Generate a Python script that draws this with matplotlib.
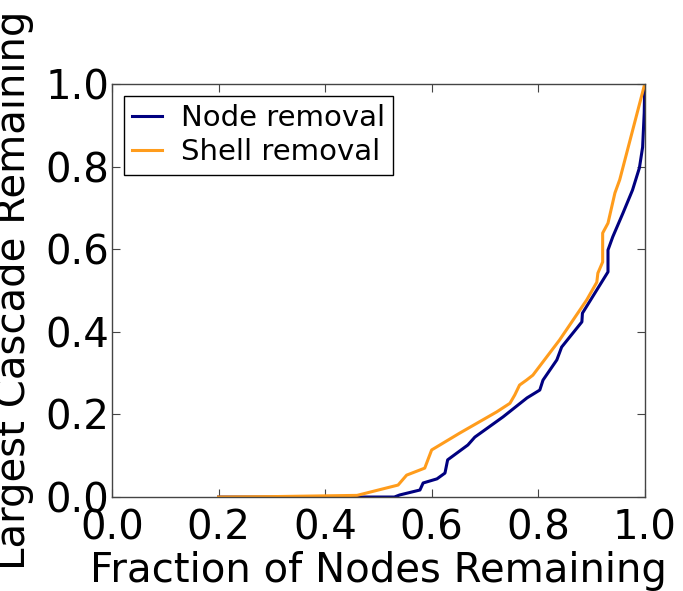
import matplotlib
matplotlib.use("Agg")
import matplotlib.pyplot as plt

node_x = [0.2, 0.45, 0.53, 0.54, 0.578, 0.584, 0.61, 0.625, 0.63, 0.668, 0.681, 0.734, 0.779, 0.803,
          0.809, 0.835, 0.844, 0.882, 0.883, 0.931, 0.931, 0.94, 0.959, 0.977, 0.99, 0.996, 0.999, 1.0]
node_y = [0.0, 0.0, 0.0, 0.005, 0.017, 0.034, 0.044, 0.058, 0.09, 0.126, 0.145, 0.194, 0.24, 0.259,
          0.283, 0.332, 0.363, 0.424, 0.445, 0.545, 0.598, 0.63, 0.687, 0.743, 0.797, 0.847, 0.93, 1.0]

shell_x = [0.2, 0.3, 0.46, 0.537, 0.553, 0.587, 0.6, 0.653, 0.722, 0.747, 0.756, 0.765, 0.778, 0.79, 0.84,
           0.891, 0.91, 0.912, 0.921, 0.921, 0.931, 0.944, 0.953, 1.0]
shell_y = [0.0, 0.001, 0.004, 0.029, 0.053, 0.07, 0.114, 0.155, 0.206, 0.227, 0.247, 0.271, 0.283, 0.295, 0.38,
           0.477, 0.52, 0.542, 0.569, 0.639, 0.663, 0.736, 0.768, 1.0]

ticks = [0.0, 0.2, 0.4, 0.6, 0.8, 1.0]

plt.rcParams['xtick.direction'] = 'in'
plt.rcParams['ytick.direction'] = 'in'
plt.rcParams['font.family'] = ['DejaVu Sans']

fig = plt.figure(figsize=(6.83, 5.91), dpi=100)
ax = fig.add_axes([0.164, 0.159, 0.78, 0.699])
ax.plot(node_x, node_y, color='#000080', lw=2.2, label='Node removal')
ax.plot(shell_x, shell_y, color='#ff9c1c', lw=2.2, label='Shell removal')
ax.set_xlim(0, 1)
ax.set_ylim(0, 1)
ax.set_xticks(ticks)
ax.set_yticks(ticks)
ax.set_xticklabels([f"{t:.1f}" for t in ticks])
ax.set_yticklabels([f"{t:.1f}" for t in ticks])
for s in ax.spines.values():
    s.set_color('#444444')
    s.set_linewidth(1.0)
ax.tick_params(labelsize=29, top=True, right=True, length=6, color='#444444')
ax.tick_params(axis='x', pad=8)
ax.tick_params(axis='y', pad=2)
ax.set_xlabel('Fraction of Nodes Remaining', fontsize=29, labelpad=2)
ax.set_ylabel('Largest Cascade Remaining', fontsize=29, labelpad=8)
leg = ax.legend(loc='upper left', fontsize=21, fancybox=False, framealpha=1,
                handlelength=1.0, borderaxespad=0.4, handletextpad=0.65, borderpad=0.3, labelspacing=0.2)
leg.get_frame().set_edgecolor('black')
fig.savefig('out.png', dpi=100)
